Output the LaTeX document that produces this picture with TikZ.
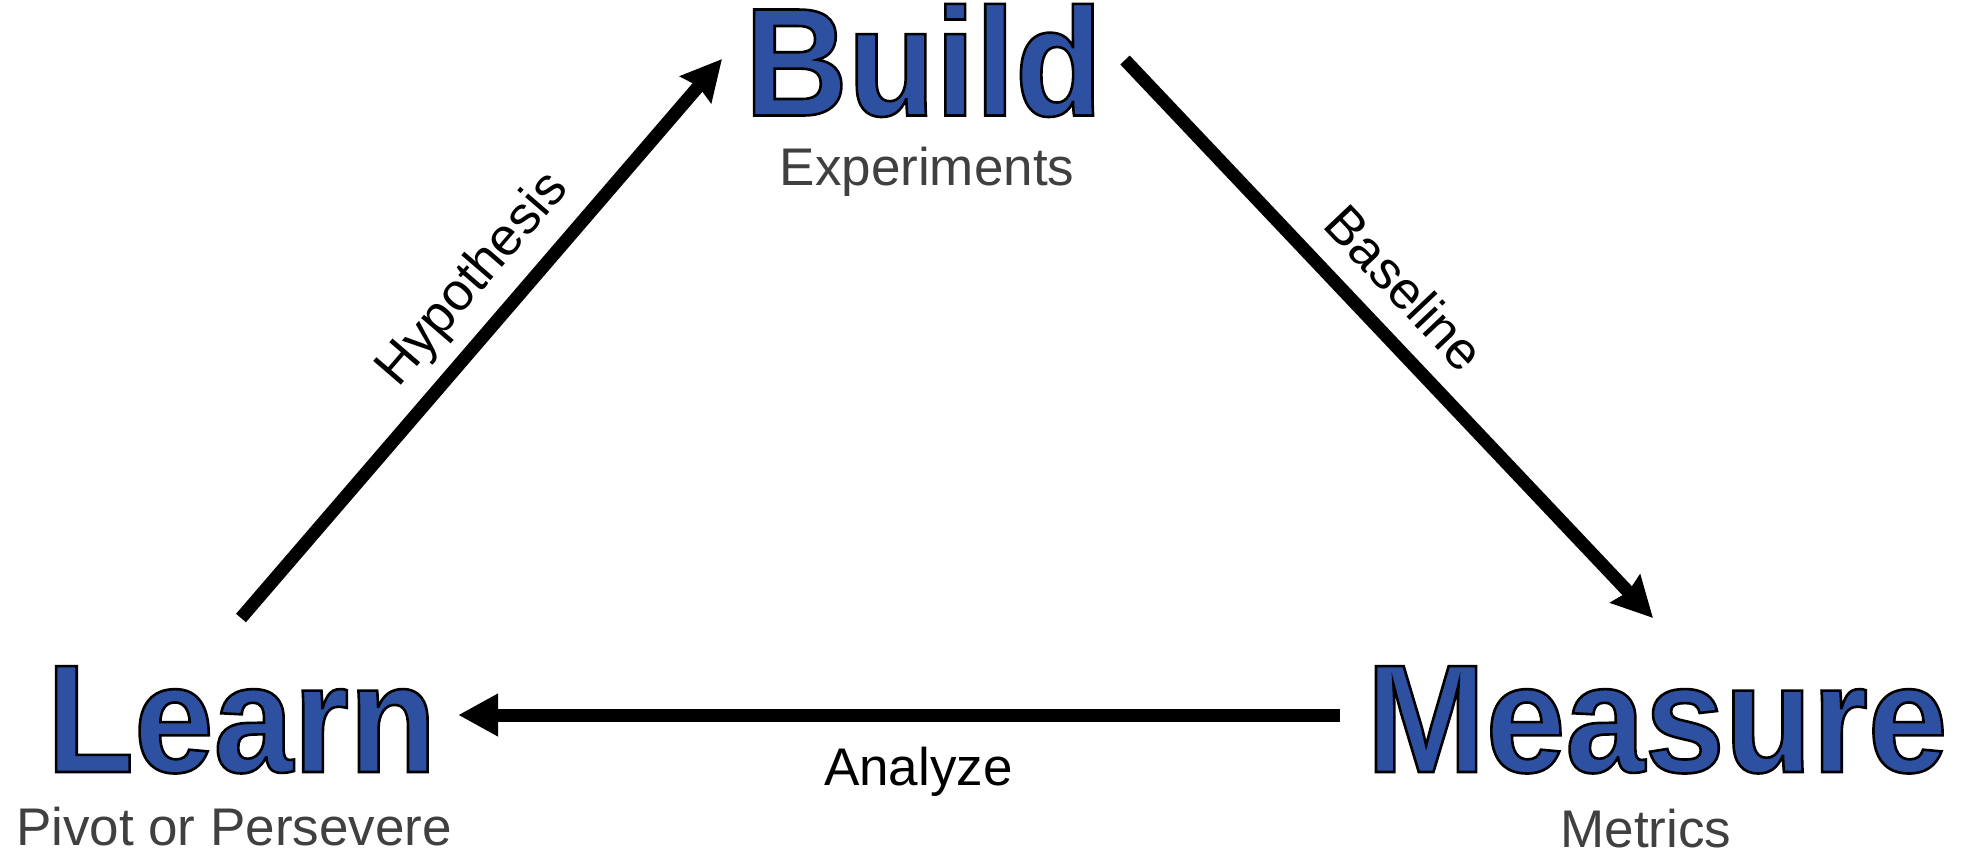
\documentclass[tikz,border=0pt]{standalone}
\usepackage{fontspec}
\setmainfont{Liberation Sans}
\newfontfamily\titlefont[FakeStretch=0.93]{Liberation Sans Bold}
\usetikzlibrary{arrows.meta}
\definecolor{bblue}{RGB}{45,81,160}
\definecolor{subgray}{RGB}{64,64,64}
\newcommand{\outlinedtext}[1]{\special{pdf:literal direct 2 Tr 1.3 w 0 0 0 RG}#1\special{pdf:literal direct 0 Tr}}
\begin{document}
\begin{tikzpicture}[x=0.5pt,y=-0.5pt,
  title/.style={font=\fontsize{77}{84}\titlefont, text=bblue, inner sep=0pt, anchor=base},
  sub/.style={font=\fontsize{26.5}{30}\selectfont, text=subgray, inner sep=0pt, anchor=base},
  lbl/.style={font=\fontsize{26.5}{30}\selectfont, text=black, inner sep=0pt},
  conn/.style={line width=6.5pt, -{Stealth[length=20pt,width=20pt,inset=2pt]}},
  hconn/.style={line width=6.5pt, -{Triangle[length=20pt,width=20pt]}}]
\fill[white] (0,0) rectangle (1965,852);
\useasboundingbox (0,0) rectangle (1965,852);
% nodes
\node[title] (build) at (923.5,115.5) {\outlinedtext{Build}};
\node[sub] (buildsub) at (927,185) {Experiments};
\node[title] (learn) at (241.5,772) {\outlinedtext{Learn}};
\node[sub] (learnsub) at (234,845) {Pivot or Persevere};
\node[title] (measure) at (1657,772) {\outlinedtext{Measure}};
\node[sub] (measuresub) at (1646,847) {Metrics};
% connector ends
\coordinate (hypS) at (241,618);
\coordinate (hypE) at (722,59);
\coordinate (basS) at (1125,60);
\coordinate (basE) at (1653,618);
\coordinate (anaS) at (1340,715);
\coordinate (anaE) at (458,715);
% connectors
\draw[conn] (hypS) -- node[lbl, sloped, pos=0.553, above=6.5pt] (hyplbl) {Hypothesis} (hypE);
\draw[conn] (basS) -- node[lbl, sloped, pos=0.466, above=10.5pt] (baslbl) {Baseline} (basE);
\draw[hconn] (anaS) -- node[lbl, pos=0.478, below=13pt] (analbl) {Analyze} (anaE);
\end{tikzpicture}
\end{document}
